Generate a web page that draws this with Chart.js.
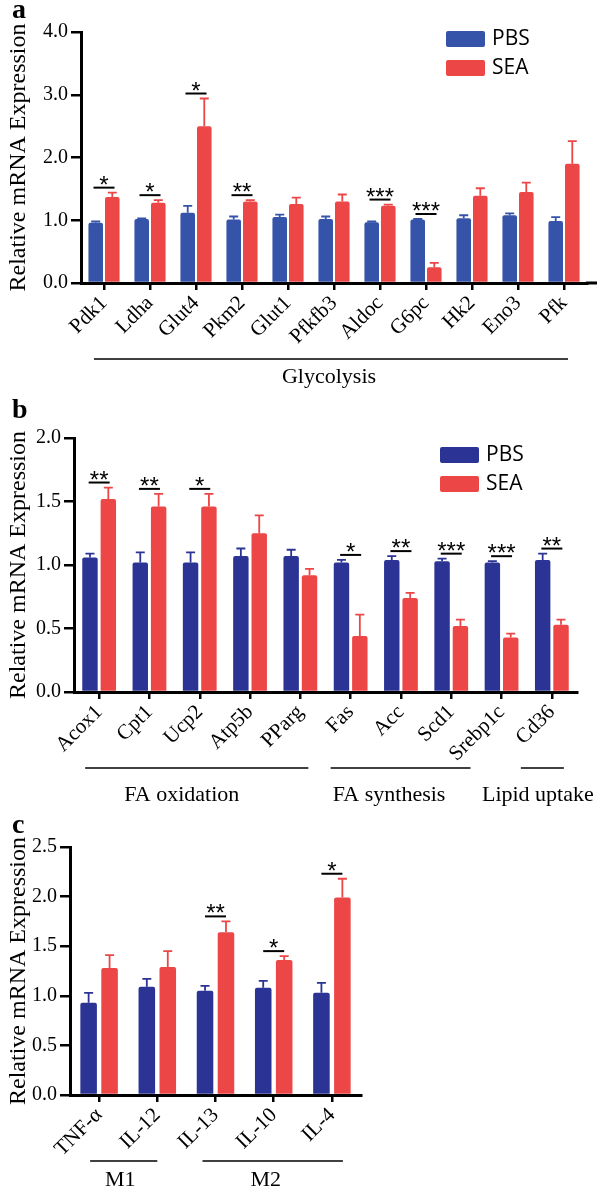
<!DOCTYPE html>
<html>
<head>
<meta charset="utf-8">
<script src="https://cdn.jsdelivr.net/npm/chart.js@4.4.0/dist/chart.umd.min.js"></script>
<style>
  body { margin: 0; background: #fff; width: 598px; height: 1189px; overflow: hidden; }
  canvas { position: absolute; left: 0; }
</style>
</head>
<body>
<canvas id="chartA" width="598" height="398" style="top:0"></canvas>
<canvas id="chartB" width="598" height="410" style="top:398px"></canvas>
<canvas id="chartC" width="598" height="381" style="top:808px"></canvas>
<script>
// panel a - glycolysis genes
const genesA   = ["Pdk1", "Ldha", "Glut4", "Pkm2", "Glut1", "Pfkfb3", "Aldoc", "G6pc", "Hk2", "Eno3", "Pfk"];
const pbsA     = [0.96, 1.02, 1.12, 1.01, 1.05, 1.02, 0.97, 1.01, 1.03, 1.08, 0.99];
const pbsErrA  = [0.02, 0.01, 0.11, 0.05, 0.04, 0.04, 0.01, 0.01, 0.05, 0.03, 0.06];
const seaA     = [1.37, 1.28, 2.50, 1.30, 1.26, 1.30, 1.23, 0.25, 1.39, 1.45, 1.90];
const seaErrA  = [0.07, 0.04, 0.44, 0.02, 0.10, 0.11, 0.02, 0.07, 0.12, 0.15, 0.36];
const sigA     = ["*", "*", "*", "**", "", "", "***", "***", "", "", ""];
const groupsA  = ["Glycolysis"];
const groupFromA = [0];
const groupToA   = [10];
const yTicksA  = [0, 1, 2, 3, 4];

// panel b - lipid metabolism genes
const genesB   = ["Acox1", "Cpt1", "Ucp2", "Atp5b", "PParg", "Fas", "Acc", "Scd1", "Srebp1c", "Cd36"];
const pbsB     = [1.06, 1.02, 1.02, 1.07, 1.07, 1.02, 1.04, 1.03, 1.02, 1.04];
const pbsErrB  = [0.03, 0.08, 0.08, 0.06, 0.05, 0.02, 0.03, 0.02, 0.01, 0.05];
const seaB     = [1.52, 1.46, 1.46, 1.25, 0.92, 0.44, 0.74, 0.52, 0.43, 0.53];
const seaErrB  = [0.09, 0.10, 0.10, 0.14, 0.05, 0.17, 0.04, 0.05, 0.03, 0.04];
const sigB     = ["**", "**", "*", "", "", "*", "**", "***", "***", "**"];
const groupsB  = ["FA oxidation", "FA synthesis", "Lipid uptake"];
const groupFromB = [0, 5, 9];
const groupToB   = [4, 8, 9];
const yTicksB  = [0, 0.5, 1, 1.5, 2];

// panel c - macrophage markers
const genesC   = ["TNF-α", "IL-12", "IL-13", "IL-10", "IL-4"];
const pbsC     = [0.93, 1.09, 1.05, 1.08, 1.03];
const pbsErrC  = [0.10, 0.08, 0.05, 0.07, 0.10];
const seaC     = [1.28, 1.29, 1.64, 1.36, 1.99];
const seaErrC  = [0.13, 0.16, 0.11, 0.04, 0.19];
const sigC     = ["", "", "**", "*", "*"];
const groupsC  = ["M1", "M2"];
const groupFromC = [0, 2];
const groupToC   = [1, 4];
const yTicksC  = [0, 0.5, 1, 1.5, 2, 2.5];

const RED = "#ec4646";
const SERIF = "'Liberation Serif', 'Times New Roman', serif";
const SANS = "'Open Sans', 'Liberation Sans', sans-serif";

const decor = {
    id: "decor",
    afterDatasetsDraw(chart) {
        const ctx = chart.ctx;
        const y = chart.scales.y;
        chart.data.datasets.forEach((ds, di) => {
            chart.getDatasetMeta(di).data.forEach((bar, i) => {
                const top = y.getPixelForValue(ds.data[i] + ds.errors[i]);
                ctx.save();
                ctx.strokeStyle = ds.backgroundColor;
                ctx.lineWidth = 1.8;
                ctx.beginPath();
                ctx.moveTo(bar.x, bar.y);
                ctx.lineTo(bar.x, top);
                ctx.moveTo(bar.x - 4.5, top);
                ctx.lineTo(bar.x + 4.5, top);
                ctx.stroke();
                ctx.restore();
            });
        });
    },
    afterDraw(chart, args, o) {
        const ctx = chart.ctx;
        const x = chart.scales.x, y = chart.scales.y;
        const area = chart.chartArea;
        const sets = chart.data.datasets;
        ctx.save();
        ctx.fillStyle = "#000";
        ctx.strokeStyle = "#000";

        // axis running on past the last group
        if (o.axisEnd) {
            ctx.lineWidth = 3;
            ctx.beginPath();
            ctx.moveTo(area.right - 1, area.bottom);
            ctx.lineTo(o.axisEnd, area.bottom);
            ctx.stroke();
        }

        // significance bars
        o.sig.forEach((s, i) => {
            if (!s) return;
            const cx = x.getPixelForValue(i);
            const top = Math.min(...sets.map(ds => y.getPixelForValue(ds.data[i] + ds.errors[i])));
            const ly = top - 5;
            ctx.lineWidth = 2;
            ctx.beginPath();
            ctx.moveTo(cx - 10.5, ly);
            ctx.lineTo(cx + 10.5, ly);
            ctx.stroke();
            ctx.font = "24px 'Liberation Sans', sans-serif";
            ctx.textAlign = "center";
            ctx.textBaseline = "alphabetic";
            ctx.fillText(s, cx, ly + 5);
        });

        // group brackets under the rotated labels
        o.groups.forEach((g, k) => {
            const st = o.groupStyle[k];
            const x0 = x.getPixelForValue(o.groupFrom[k]) + st[0];
            const x1 = x.getPixelForValue(o.groupTo[k]) + st[1];
            ctx.lineWidth = 1.5;
            ctx.beginPath();
            ctx.moveTo(x0, o.groupLineY);
            ctx.lineTo(x1, o.groupLineY);
            ctx.stroke();
            const mid = (x.getPixelForValue(o.groupFrom[k]) + x.getPixelForValue(o.groupTo[k])) / 2;
            ctx.font = "22px " + SERIF;
            ctx.textAlign = "center";
            ctx.textBaseline = "middle";
            ctx.fillText(g, mid + st[2], o.groupTextY);
        });

        // legend
        if (o.legend) {
            const L = o.legend;
            sets.forEach((ds, di) => {
                const ty = L.y + di * L.gap;
                ctx.fillStyle = ds.backgroundColor;
                ctx.beginPath();
                ctx.roundRect(L.x, ty, 39, 16, 2);
                ctx.fill();
                ctx.fillStyle = "#000";
                ctx.font = "21px " + SANS;
                ctx.textAlign = "left";
                ctx.textBaseline = "middle";
                ctx.fillText(ds.label, L.x + 46, ty + 8);
            });
        }

        // panel letter
        ctx.fillStyle = "#000";
        ctx.font = "bold 28px " + SERIF;
        ctx.textAlign = "left";
        ctx.textBaseline = "alphabetic";
        ctx.fillText(o.letter, 12, o.letterY);
        ctx.restore();
    }
};

function makePanel(id, cfg) {
    const canvas = document.getElementById(id);
    const W = canvas.width, H = canvas.height;
    return new Chart(canvas, {
        type: "bar",
        data: {
            labels: cfg.labels,
            datasets: [
                { label: "PBS", data: cfg.pbs, errors: cfg.pbsErr, backgroundColor: cfg.blue,
                  barPercentage: cfg.barPct, categoryPercentage: cfg.catPct, borderRadius: 2 },
                { label: "SEA", data: cfg.sea, errors: cfg.seaErr, backgroundColor: RED,
                  barPercentage: cfg.barPct, categoryPercentage: cfg.catPct, borderRadius: 2 },
            ],
        },
        options: {
            responsive: false,
            animation: false,
            events: [],
            layout: { padding: { left: 0, top: cfg.area.top, right: W - cfg.area.right, bottom: 0 } },
            plugins: {
                legend: { display: false },
                tooltip: { enabled: false },
                decor: cfg.decor,
            },
            scales: {
                x: {
                    z: 1,
                    grid: { offset: false, drawOnChartArea: false, tickLength: 7, lineWidth: 2.5, color: "#000" },
                    border: { display: true, width: 3, color: "#000" },
                    ticks: { color: "#000", font: { family: SERIF, size: 21 }, minRotation: 45, maxRotation: 45,
                             autoSkip: false, padding: 1 },
                    afterFit: s => { s.height = H - cfg.area.bottom; },
                },
                y: {
                    z: 1,
                    min: 0,
                    max: cfg.yTicks[cfg.yTicks.length - 1],
                    afterBuildTicks: s => { s.ticks = cfg.yTicks.map(v => ({ value: v })); },
                    grid: { drawOnChartArea: false, tickLength: 10, lineWidth: 2.5, color: "#000" },
                    border: { display: true, width: 3, color: "#000" },
                    ticks: { color: "#000", font: { family: SERIF, size: 20 }, padding: 3,
                             callback: v => Number(v).toFixed(1) },
                    title: { display: true, text: "Relative mRNA Expression", color: "#000",
                             font: { family: SERIF, size: 24 }, padding: { top: 4, bottom: 0 } },
                    afterFit: s => { s.width = cfg.area.left; },
                },
            },
        },
        plugins: [decor],
    });
}

makePanel("chartA", {
    labels: genesA, pbs: pbsA, pbsErr: pbsErrA, sea: seaA, seaErr: seaErrA, yTicks: yTicksA,
    blue: "#3553a9", barPct: 0.88, catPct: 0.72,
    area: { left: 81, right: 587, top: 32, bottom: 283 },
    decor: {
        sig: sigA, groups: groupsA, groupFrom: groupFromA, groupTo: groupToA,
        groupStyle: [[-10, 4, -5]], groupLineY: 359, groupTextY: 377,
        legend: { x: 446, y: 31, gap: 29 }, letter: "a", letterY: 18, axisEnd: 597,
    },
});

makePanel("chartB", {
    labels: genesB, pbs: pbsB, pbsErr: pbsErrB, sea: seaB, seaErr: seaErrB, yTicks: yTicksB,
    blue: "#2b3494", barPct: 0.84, catPct: 0.73,
    area: { left: 74, right: 577, top: 40, bottom: 294 },
    decor: {
        sig: sigB, groups: groupsB, groupFrom: groupFromB, groupTo: groupToB,
        groupStyle: [[-14, 8, -18], [-20, -31, -37], [-31, 12, -14]], groupLineY: 370, groupTextY: 397,
        legend: { x: 440, y: 49, gap: 29 }, letter: "b", letterY: 20,
    },
});

makePanel("chartC", {
    labels: genesC, pbs: pbsC, pbsErr: pbsErrC, sea: seaC, seaErr: seaErrC, yTicks: yTicksC,
    blue: "#2b3494", barPct: 0.79, catPct: 0.72,
    area: { left: 70, right: 361, top: 39, bottom: 287 },
    decor: {
        sig: sigC, groups: groupsC, groupFrom: groupFromC, groupTo: groupToC,
        groupStyle: [[-9, 0, -8], [-13, 11, -8]], groupLineY: 353, groupTextY: 372,
        letter: "c", letterY: 25,
    },
});
</script>
</body>
</html>
